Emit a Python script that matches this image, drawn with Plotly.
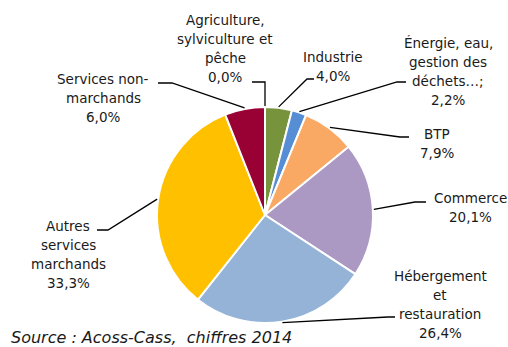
import math
import plotly.graph_objects as go

# ---- data ----
categories = [
    "Agriculture, sylviculture et pêche",
    "Industrie",
    "Énergie, eau, gestion des déchets…;",
    "BTP",
    "Commerce",
    "Hébergement et restauration",
    "Autres services marchands",
    "Services non-marchands",
]
label_lines = [
    ["Agriculture,", "sylviculture et", "pêche"],
    ["Industrie"],
    ["Énergie, eau,", "gestion des", "déchets…;"],
    ["BTP"],
    ["Commerce"],
    ["Hébergement", "et", "restauration"],
    ["Autres", "services", "marchands"],
    ["Services non-", "marchands"],
]
values = [0.0, 4.0, 2.2, 7.9, 20.1, 26.4, 33.3, 6.0]
colors = ["#77933C", "#77933C", "#558ED5", "#F9A964", "#AB99C3",
          "#95B3D7", "#FFC000", "#990033"]
source_text = "Source : Acoss-Cass,\u00a0\u00a0chiffres 2014"

# ---- layout (pixels) ----
W, H = 508, 347
CX, CY, R = 265, 215, 108
# text block: (center x, first line center y)
text_pos = [(225, 20), (333, 57), (448, 43), (437, 134), (470, 198),
            (440, 276), (68, 226), (103, 79)]
# leader: (elbow x, elbow y, end x)
leaders = [(265, 82, 252), (307, 79, 314), (397, 82, 406), (400, 137, 409),
           (415, 202, 426), (388, 317, 395), (108, 230, 97), (172, 83, 158)]
LINE_H = 19
FONT = "DejaVu Sans"
FSIZE = 13.5
TXT = "#1a1a1a"


def px(x, y):
    return x / W, 1 - y / H


fig = go.Figure()
fig.add_trace(go.Pie(
    labels=categories, values=values, sort=False, direction="clockwise",
    rotation=0, textinfo="none", hoverinfo="label+percent",
    marker=dict(colors=colors, line=dict(color="white", width=2)),
    domain=dict(x=[(CX - R) / W, (CX + R) / W],
                y=[1 - (CY + R) / H, 1 - (CY - R) / H]),
    showlegend=False,
))

total = sum(values)
annotations = []
shapes = []
cum = 0.0
for i, v in enumerate(values):
    mid = (cum + v / 2) / total * 2 * math.pi
    cum += v
    ax = CX + (R + 1) * math.sin(mid)
    ay = CY - (R + 1) * math.cos(mid)
    ex, ey, endx = leaders[i]
    p0 = px(ax, ay)
    p1 = px(ex, ey)
    p2 = px(endx, ey)
    shapes.append(dict(type="path", xref="paper", yref="paper",
                       path=f"M {p0[0]},{p0[1]} L {p1[0]},{p1[1]} L {p2[0]},{p2[1]}",
                       line=dict(color="black", width=1.3)))
    lines = label_lines[i] + [f"{v:.1f}".replace(".", ",") + "%"]
    tx, ty = text_pos[i]
    for k, ln in enumerate(lines):
        x, y = px(tx, ty + k * LINE_H)
        annotations.append(dict(text=ln, x=x, y=y, xref="paper", yref="paper",
                                xanchor="center", yanchor="middle",
                                showarrow=False,
                                font=dict(family=FONT, size=FSIZE, color=TXT)))

sx, sy = px(9, 337)
annotations.append(dict(text=f"<i>{source_text}</i>", x=sx, y=sy,
                        xref="paper", yref="paper", xanchor="left",
                        yanchor="middle", showarrow=False,
                        font=dict(family=FONT, size=16, color=TXT)))

fig.update_layout(
    width=W, height=H, margin=dict(l=0, r=0, t=0, b=0),
    paper_bgcolor="white", plot_bgcolor="white",
    annotations=annotations, shapes=shapes,
)
fig.write_html("out.html")
